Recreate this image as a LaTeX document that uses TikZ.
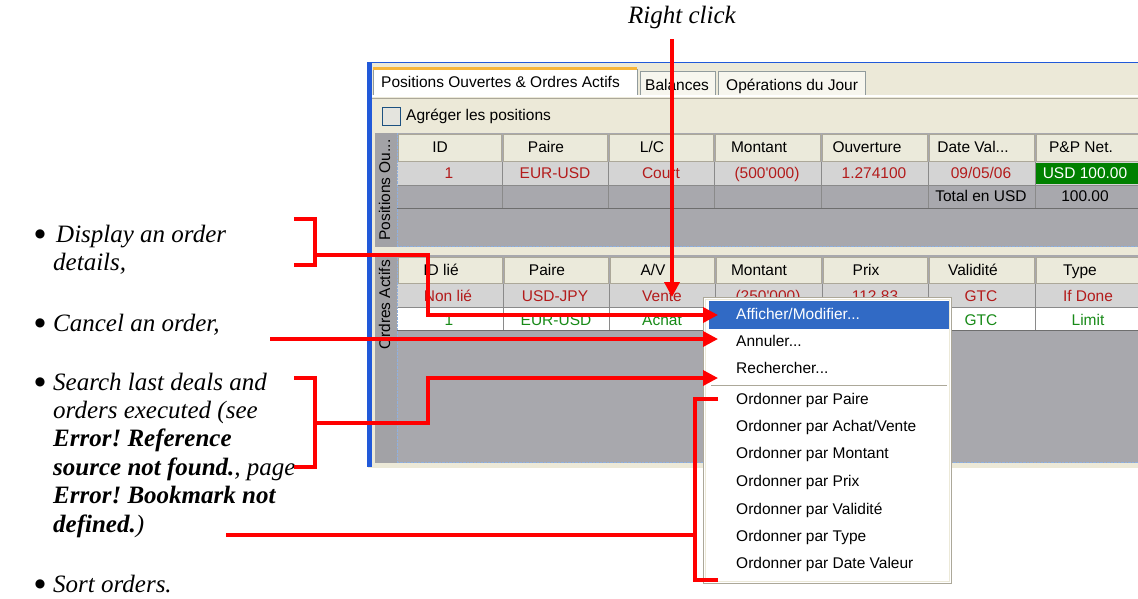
\documentclass[tikz,border=0pt]{standalone}
\usepackage{fontspec}
\setmainfont{Liberation Serif}
\newfontfamily\uifont{Liberation Sans}
\newfontfamily\symfont{DejaVu Sans}
\usetikzlibrary{arrows.meta}
\definecolor{beige}{HTML}{ECE9D8}
\definecolor{winblue}{HTML}{2159D9}
\definecolor{taborange}{HTML}{F7B63A}
\definecolor{tabborder}{HTML}{919B9C}
\definecolor{tabfill}{HTML}{F7F6EE}
\definecolor{hdrfill}{HTML}{EBEADB}
\definecolor{hdrline}{HTML}{ACA899}
\definecolor{rowlight}{HTML}{D4D4D4}
\definecolor{gridgray}{HTML}{A8A8AD}
\definecolor{sidegray}{HTML}{A2A2A6}
\definecolor{sepgray}{HTML}{8A8A8A}
\definecolor{sepdark}{HTML}{6E6E6E}
\definecolor{dotblue}{HTML}{8FB0E0}
\definecolor{redtxt}{HTML}{B31B1B}
\definecolor{greentxt}{HTML}{188A18}
\definecolor{ppgreen}{HTML}{008000}
\definecolor{menublue}{HTML}{316AC5}
\definecolor{cbborder}{HTML}{1C5180}
\definecolor{cbfill}{HTML}{E4E4DE}
\frenchspacing
\begin{document}
\begin{tikzpicture}[x=1pt,y=-1pt,
  ui/.style={font=\uifont\fontsize{15.5}{18}\selectfont, inner sep=0pt, text height=11pt, text depth=3pt},
  red cell/.style={ui, text=redtxt},
  green cell/.style={ui, text=greentxt},
  hdrcell/.style={draw=hdrline, fill=hdrfill},
  doc/.style={font=\fontsize{25}{28}\selectfont\itshape, inner sep=0pt, anchor=base west},
  dot/.style={font=\symfont\fontsize{12}{14}\selectfont, inner sep=0pt, anchor=base},
  redline/.style={draw=red, line width=3.5pt},
  redarrow/.style={redline, -{Triangle[length=15pt,width=15pt]}},
]
\useasboundingbox (0,0) rectangle (1138,598);
\fill[white] (0,0) rectangle (1138,598);

% ---------- window ----------
\fill[beige] (368,62) rectangle (1138,468);
\draw[winblue, line width=1.5pt] (368,62.5) -- (1138,62.5);
\fill[winblue] (367,62) rectangle (372,467);

% tabs
\draw[tabborder, fill=tabfill] (640,96) -- (640,71) -- (715,71) -- (715,96);
\draw[tabborder, fill=tabfill] (718,96) -- (718,71) -- (865,71) -- (865,96);
\draw[tabborder, fill=white] (373,96) -- (373,69) -- (637,69) -- (637,96);
\fill[taborange] (373,67) rectangle (637,70);
\draw[white, line width=1.5pt] (372,96) -- (1138,96);
\draw[hdrline, line width=1pt] (372,98) -- (1138,98);
\node[ui, anchor=west] (tab1) at (381,83) {Positions Ouvertes \& Ordres Actifs};
\node[ui, anchor=west] (tab2) at (645,86) {Balances};
\node[ui, anchor=west] (tab3) at (726,86) {Opérations du Jour};

% checkbox
\draw[cbborder, fill=cbfill] (382,107) rectangle (400,125);
\node[ui, anchor=west] (agr) at (406,116) {Agréger les positions};

% ---------- positions group ----------
\fill[sidegray] (375,133) rectangle (397,247);
\fill[gridgray] (397,133) rectangle (1138,247);
\foreach \a/\b in {397/502,502/608,608/714,714/821,821/928,928/1035,1035/1140}
  \draw[hdrcell] (\a+1,134) rectangle (\b-1,161);
\fill[rowlight] (397,162) rectangle (1138,185);
\fill[ppgreen] (1036,163) rectangle (1138,184);
\foreach \x in {502,608,714,821,928,1035}
  \draw[sepgray] (\x,162) -- (\x,208);
\draw[sepgray] (397,185) -- (1138,185);
\draw[sepdark, line width=1.5pt] (397,208.5) -- (1138,208.5);
\draw[dotblue, densely dotted] (397,133) -- (397,246.5) -- (1138,246.5);
\node[ui, rotate=90] (sideP) at (386,190) {Positions Ou...};

\node[ui] (ph1) at (440,148) {ID};
\node[ui] (ph2) at (546,148) {Paire};
\node[ui] (ph3) at (652,148) {L/C};
\node[ui] (ph4) at (759,148) {Montant};
\node[ui] (ph5) at (867,148) {Ouverture};
\node[ui] (ph6) at (973,148) {Date Val...};
\node[ui] (ph7) at (1081,148) {P\&P Net.};

\node[red cell] (pa1) at (449,174) {1};
\node[red cell] (pa2) at (555,174) {EUR-USD};
\node[red cell] (pa3) at (661,174) {Court};
\node[red cell] (pa4) at (767,174) {(500\textquotesingle 000)};
\node[red cell] (pa5) at (874,174) {1.274100};
\node[red cell] (pa6) at (981,174) {09/05/06};
\node[ui, text=white] (pa7) at (1085,174) {USD 100.00};
\node[ui] (pb6) at (981,197) {Total en USD};
\node[ui] (pb7) at (1085,197) {100.00};

% ---------- ordres group ----------
\fill[sidegray] (375,255) rectangle (397,463);
\fill[gridgray] (397,255) rectangle (1138,463);
\foreach \a/\b in {397/503,503/609,609/715,715/822,822/928,928/1035,1035/1140}
  \draw[hdrcell] (\a+1,257) rectangle (\b-1,283);
\fill[rowlight] (397,284) rectangle (1138,307);
\fill[white] (397,307) rectangle (1138,330);
\foreach \x in {503,609,715,822,928,1035}
  \draw[sepgray] (\x,284) -- (\x,330);
\draw[sepgray] (397,307) -- (1138,307);
\draw[sepdark, line width=1.5pt] (397,330.5) -- (1138,330.5);
\draw[dotblue, densely dotted] (397,255) -- (397,462.5) -- (1138,462.5);
\node[ui, rotate=90] (sideO) at (386,305) {Ordres Actifs};

\node[ui] (oh1) at (441,271) {ID lié};
\node[ui] (oh2) at (547,271) {Paire};
\node[ui] (oh3) at (653,271) {A/V};
\node[ui] (oh4) at (759,271) {Montant};
\node[ui] (oh5) at (866,271) {Prix};
\node[ui] (oh6) at (973,271) {Validité};
\node[ui] (oh7) at (1080,271) {Type};

\node[red cell] (oa1) at (448,297) {Non lié};
\node[red cell] (oa2) at (555,297) {USD-JPY};
\node[red cell] (oa3) at (662,297) {Vente};
\node[red cell] (oa4) at (768,297) {(250\textquotesingle 000)};
\node[red cell] (oa5) at (875,297) {112.83};
\node[red cell] (oa6) at (981,297) {GTC};
\node[red cell] (oa7) at (1088,297) {If Done};
\node[green cell] (ob1) at (449,321) {1};
\node[green cell] (ob2) at (556,321) {EUR-USD};
\node[green cell] (ob3) at (662,321) {Achat};
\node[green cell] (ob6) at (981,321) {GTC};
\node[green cell] (ob7) at (1088,321) {Limit};

% ---------- context menu ----------
\draw[hdrline, fill=white] (703,297) rectangle (951,583);
\draw[beige] (705,299) rectangle (949,581);
\fill[menublue] (709,301) rectangle (949,329);
\draw[hdrline] (711,385) -- (947,385);
\node[ui, anchor=west, text=white] (m1) at (736,315) {Afficher/Modifier...};
\node[ui, anchor=west] (m2) at (736,342) {Annuler...};
\node[ui, anchor=west] (m3) at (736,369) {Rechercher...};
\node[ui, anchor=west] (m4) at (736,400) {Ordonner par Paire};
\node[ui, anchor=west] (m5) at (736,427) {Ordonner par Achat/Vente};
\node[ui, anchor=west] (m6) at (736,454) {Ordonner par Montant};
\node[ui, anchor=west] (m7) at (736,482) {Ordonner par Prix};
\node[ui, anchor=west] (m8) at (736,510) {Ordonner par Validité};
\node[ui, anchor=west] (m9) at (736,537) {Ordonner par Type};
\node[ui, anchor=west] (m10) at (736,564) {Ordonner par Date Valeur};

% ---------- document text ----------
\node[doc, anchor=base] (rc) at (682,23) {Right click};

\node[dot] (b1) at (40,237) {●};
\node[dot] (b2) at (40,326) {●};
\node[dot] (b3) at (40,385) {●};
\node[dot] (b4) at (40,587) {●};

\node[doc] (t1a) at (56,242) {Display an order};
\node[doc] (t1b) at (53,270) {details,};
\node[doc] (t2) at (53,331) {Cancel an order,};
\node[doc] (t3a) at (53,390) {Search last deals and};
\node[doc] (t3b) at (53,418.4) {orders executed (see};
\node[doc] (t3c) at (53,446.8) {\textbf{Error! Reference}};
\node[doc] (t3d) at (53,475.2) {\textbf{source not found.}, page};
\node[doc] (t3e) at (53,503.6) {\textbf{Error! Bookmark not}};
\node[doc] (t3f) at (53,532) {\textbf{defined.})};
\node[doc] (t4) at (53,592) {Sort orders.};

% ---------- red connectors ----------
\coordinate (rcA) at (672,39);
\coordinate (rcB) at (672,297);
\draw[redarrow] (rcA) -- (rcB);

\coordinate (d1) at (294,219);
\coordinate (d2) at (294,265);
\coordinate (dm) at (315,255);
\coordinate (dE) at (718,315);
\draw[redline] (d1) -| (315,265) -- (d2);
\draw[redarrow] (dm) -- (428,255) |- (dE);

\coordinate (cA) at (270,339);
\coordinate (cE) at (718,339);
\draw[redarrow] (cA) -- (cE);

\coordinate (s1) at (294,378);
\coordinate (s2) at (294,467);
\coordinate (sm) at (315,423);
\coordinate (sE) at (718,378);
\draw[redline] (s1) -| (315,467) -- (s2);
\draw[redarrow] (sm) -- (428,423) |- (sE);

\coordinate (oA) at (226,535);
\coordinate (o1) at (718,399);
\coordinate (o2) at (718,580);
\draw[redline] (oA) -- (695,535);
\draw[redline] (o1) -| (695,580) -- (o2);
\end{tikzpicture}
\end{document}
